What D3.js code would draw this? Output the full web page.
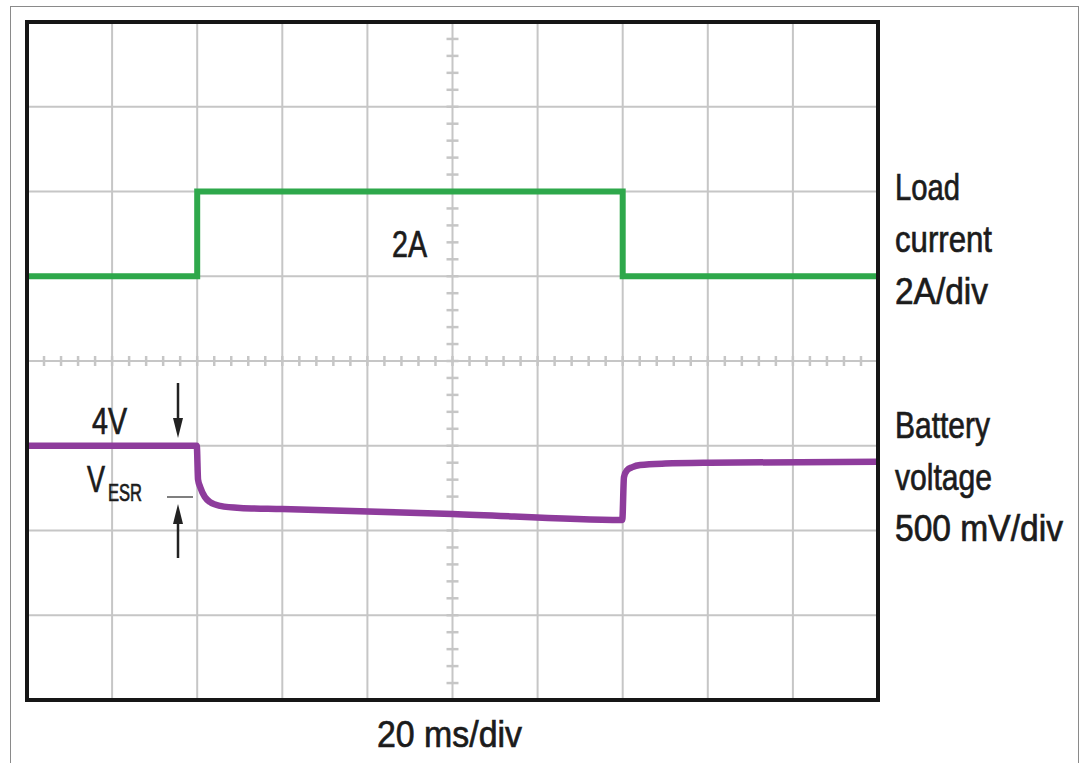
<!DOCTYPE html>
<html>
<head>
<meta charset="utf-8">
<script src="https://cdn.jsdelivr.net/npm/d3@7"></script>
<style>
  html, body { margin: 0; padding: 0; background: #fff; }
  svg text {
    font-family: "Liberation Sans Narrow", "Arial Narrow", "Liberation Sans", sans-serif;
    fill: #1b1b1b; stroke: #1b1b1b; stroke-width: 0.7px;
  }
</style>
</head>
<body>
<div class="scope"></div>
<script>
// time in ms, 20 ms/div, 10 divisions
const timeDomain = [0, 200];
// load current in A (2 A/div)
const currentT = [0, 40, 40, 140, 140, 200];
const currentA = [0, 0, 2, 2, 0, 0];
// battery voltage in V (500 mV/div)
const voltageT = [0, 39.9, 40.2, 40.7, 41.8, 43, 45.4, 50.1, 60, 100, 139.9, 140.3, 141, 142.3, 144.1, 150, 160.5, 200];
const voltageV = [4.0, 4.0, 3.80, 3.757, 3.698, 3.668, 3.645, 3.633, 3.627, 3.598, 3.562, 3.815, 3.855, 3.874, 3.886, 3.895, 3.900, 3.906];

const currentLabels = ["Load", "current", "2A/div"];
const voltageLabels = ["Battery", "voltage", "500 mV/div"];
const timeLabel = "20 ms/div";
const levelCurrent = "2A";
const levelVoltage = "4V";
const esrLabel = ["V", "ESR"];

const width = 1083, height = 763;
const pLeft = 27, pRight = 878, pTop = 22, pBottom = 700;
const xDivs = 10, yDivs = 8, minor = 5;

const svg = d3.select("div.scope").append("svg")
    .attr("width", width)
    .attr("height", height);

const x = d3.scaleLinear().domain(timeDomain).range([pLeft, pRight]);
// 0 A sits on the 3rd grid line from the top, 4 V on the 5th
const yI = d3.scaleLinear().domain([-10, 6]).range([pBottom, pTop]);
const yV = d3.scaleLinear().domain([2.5, 6.5]).range([pBottom, pTop]);
const gx = d3.scaleLinear().domain([0, xDivs]).range([pLeft, pRight]);
const gy = d3.scaleLinear().domain([0, yDivs]).range([pTop, pBottom]);

// outer frame
svg.append("rect")
    .attr("x", 10.5).attr("y", 6.5)
    .attr("width", 1068).attr("height", 780)
    .attr("fill", "none").attr("stroke", "#8a8a8a").attr("stroke-width", 1);

// grid
const grid = svg.append("g").attr("stroke", "#c6c6c6").attr("stroke-width", 2);
grid.selectAll("line.v").data(d3.range(1, xDivs)).enter().append("line")
    .attr("x1", d => gx(d)).attr("x2", d => gx(d))
    .attr("y1", pTop).attr("y2", pBottom);
grid.selectAll("line.h").data(d3.range(1, yDivs)).enter().append("line")
    .attr("y1", d => gy(d)).attr("y2", d => gy(d))
    .attr("x1", pLeft).attr("x2", pRight);

// minor ticks on center axes
const cx = gx(xDivs / 2), cy = gy(yDivs / 2);
grid.selectAll("line.tx").data(d3.range(1, xDivs * minor)).enter().append("line")
    .attr("x1", d => gx(d / minor)).attr("x2", d => gx(d / minor))
    .attr("y1", cy - 5).attr("y2", cy + 5)
    .attr("stroke-width", 2.5);
grid.selectAll("line.ty").data(d3.range(1, yDivs * minor)).enter().append("line")
    .attr("y1", d => gy(d / minor)).attr("y2", d => gy(d / minor))
    .attr("x1", cx - 6).attr("x2", cx + 6)
    .attr("stroke-width", 2.5);

// traces
const iLine = d3.line().x(d => x(d[0])).y(d => yI(d[1]));
svg.append("path")
    .datum(d3.zip(currentT, currentA))
    .attr("d", iLine)
    .attr("fill", "none")
    .attr("stroke", "#2ea84b")
    .attr("stroke-width", 6);

const vLine = d3.line().x(d => x(d[0])).y(d => yV(d[1])).curve(d3.curveMonotoneX);
svg.append("path")
    .datum(d3.zip(voltageT, voltageV))
    .attr("d", vLine)
    .attr("fill", "none")
    .attr("stroke", "#8e3c9c")
    .attr("stroke-width", 6.5)
    .attr("stroke-linejoin", "round");

// plot frame
svg.append("rect")
    .attr("x", pLeft).attr("y", pTop)
    .attr("width", pRight - pLeft).attr("height", pBottom - pTop)
    .attr("fill", "none").attr("stroke", "#161616").attr("stroke-width", 4);

// VESR arrows
const ax = 178;
const arrows = svg.append("g").attr("fill", "#222").attr("stroke", "#222");
arrows.append("line").attr("x1", ax).attr("x2", ax).attr("y1", 383).attr("y2", 420).attr("stroke-width", 2.5);
arrows.append("path").attr("d", `M${ax - 5},418 L${ax + 5},418 L${ax},438 Z`).attr("stroke", "none");
arrows.append("line").attr("x1", ax).attr("x2", ax).attr("y1", 522).attr("y2", 558).attr("stroke-width", 2.5);
arrows.append("path").attr("d", `M${ax - 5},524 L${ax + 5},524 L${ax},504 Z`).attr("stroke", "none");
arrows.append("line").attr("x1", 167).attr("x2", 193).attr("y1", 497).attr("y2", 497)
    .attr("stroke", "#555").attr("stroke-width", 1.5);

// labels
function label(txt, px, py, w, size) {
    return svg.append("text")
        .attr("x", px).attr("y", py)
        .attr("font-size", size || 37)
        .attr("textLength", w)
        .attr("lengthAdjust", "spacingAndGlyphs")
        .text(txt);
}
const curW = [65, 97, 93], volW = [95, 97, 168];
currentLabels.forEach((t, i) => label(t, 895, 200 + i * 52, curW[i]));
voltageLabels.forEach((t, i) => label(t, 895, 438 + i * 51.5, volW[i]));
label(levelCurrent, 392, 257, 35);
label(levelVoltage, 92, 434, 35);
label(timeLabel, 377, 747, 145);

// V with ESR subscript
label(esrLabel[0], 87, 492, 18);
label(esrLabel[1], 108, 501, 34, 24);
</script>
</body>
</html>
